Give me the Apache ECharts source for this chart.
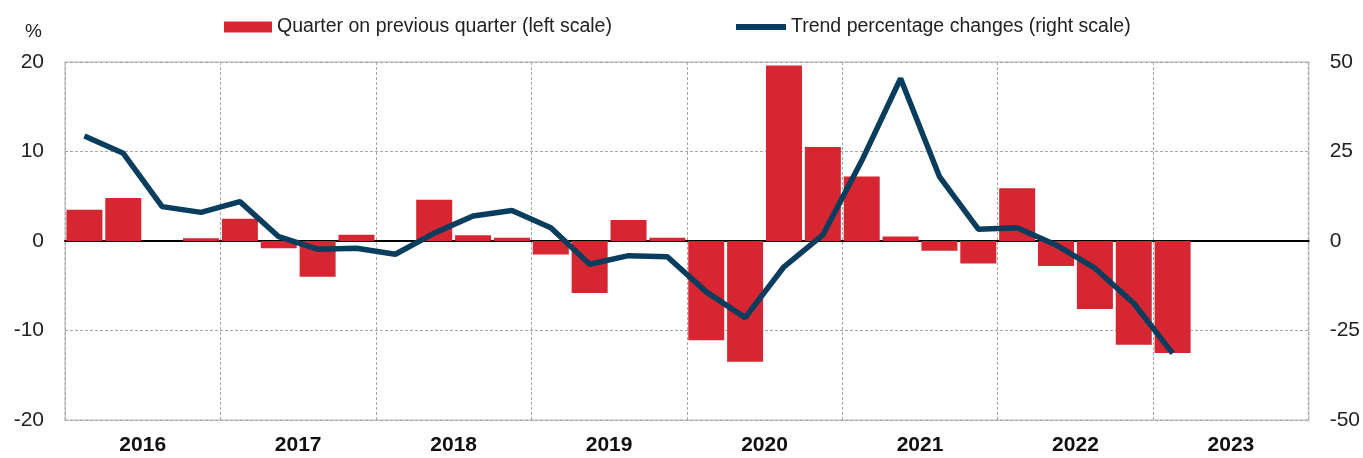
<!DOCTYPE html>
<html>
<head>
<meta charset="utf-8">
<script src="https://cdn.jsdelivr.net/npm/echarts@6/dist/echarts.min.js"></script>
<style>
  html, body { margin: 0; padding: 0; background: #fff; }
  #main { width: 1363px; height: 458px; }
</style>
</head>
<body>
<div id="main"></div>
<script>
var years = ['2016', '2017', '2018', '2019', '2020', '2021', '2022', '2023'];
var quarters = [];
years.forEach(function (y) {
  for (var q = 1; q <= 4; q++) quarters.push(y + 'Q' + q);
});

// quarter on previous quarter, left scale (%)
var qoq = [3.5, 4.8, 0, 0.3,
  2.5, -0.8, -4.0, 0.7,
  0, 4.6, 0.65, 0.35,
  -1.5, -5.8, 2.35, 0.35,
  -11.1, -13.5, 19.6, 10.5,
  7.2, 0.5, -1.1, -2.5,
  5.9, -2.8, -7.6, -11.6,
  -12.5, null, null, null];

// trend percentage changes, right scale
var trend = [29.3, 24.5, 9.6, 8.0,
  11.0, 1.2, -2.3, -2.0,
  -3.7, 2.2, 7.0, 8.5,
  3.7, -6.5, -4.1, -4.4,
  -14.2, -21.4, -7.2, 1.7,
  22.4, 45.4, 18.0, 3.3,
  3.7, -1.1, -7.6, -17.4,
  -31.4, null, null, null];

var red = '#d62631';
var navy = '#083d5e';
var font = "'Liberation Sans', Arial, sans-serif";

var myChart = echarts.init(document.getElementById('main'));
myChart.setOption({
  animation: false,
  legend: [{
    data: [{ name: 'Quarter on previous quarter (left scale)', icon: 'rect' }],
    left: 219,
    top: 12,
    itemWidth: 48,
    itemHeight: 11,
    textStyle: { fontFamily: font, fontSize: 19.5, color: '#222' }
  }, {
    data: [{ name: 'Trend percentage changes (right scale)', icon: 'rect' }],
    left: 731,
    top: 12,
    itemWidth: 50,
    itemHeight: 6,
    textStyle: { fontFamily: font, fontSize: 19.5, color: '#222' }
  }],
  graphic: [{
    type: 'text',
    left: 25,
    top: 22,
    style: { text: '%', font: '19px ' + font, fill: '#222' }
  }],
  grid: {
    left: 65,
    right: 52,
    top: 62,
    bottom: 38,
    show: true,
    borderColor: '#d9d9d9',
    borderWidth: 2
  },
  xAxis: [{
    type: 'category',
    data: quarters,
    position: 'bottom',
    axisLine: { onZero: true, onZeroAxisIndex: 0, lineStyle: { color: '#000', width: 2 } },
    axisTick: { show: false },
    axisLabel: { show: false },
    splitLine: { show: false }
  }, {
    type: 'category',
    data: years,
    position: 'bottom',
    axisLine: { show: false, onZero: false },
    axisTick: { show: false },
    axisLabel: {
      margin: 15,
      fontFamily: font,
      fontWeight: 'bold',
      fontSize: 21,
      color: '#111'
    },
    splitLine: { show: true, interval: 0, lineStyle: { color: '#a6a6a6', type: [3, 2], width: 1 } }
  }],
  yAxis: [{
    type: 'value',
    min: -20,
    max: 20,
    interval: 10,
    axisLine: { show: false },
    axisTick: { show: false },
    axisLabel: { margin: 21, fontFamily: font, fontSize: 21, color: '#222' },
    splitLine: { lineStyle: { color: '#a6a6a6', type: [3, 2], width: 1 } }
  }, {
    type: 'value',
    min: -50,
    max: 50,
    interval: 25,
    position: 'right',
    axisLine: { show: false },
    axisTick: { show: false },
    axisLabel: { margin: 21, fontFamily: font, fontSize: 21, color: '#222' },
    splitLine: { show: false }
  }],
  series: [{
    name: 'Quarter on previous quarter (left scale)',
    type: 'bar',
    xAxisIndex: 0,
    yAxisIndex: 0,
    data: qoq,
    barWidth: 36,
    itemStyle: { color: red }
  }, {
    name: 'Trend percentage changes (right scale)',
    type: 'line',
    xAxisIndex: 0,
    yAxisIndex: 1,
    data: trend,
    symbol: 'none',
    z: 5,
    lineStyle: { color: navy, width: 5.5 },
    itemStyle: { color: navy }
  }]
});
</script>
</body>
</html>
